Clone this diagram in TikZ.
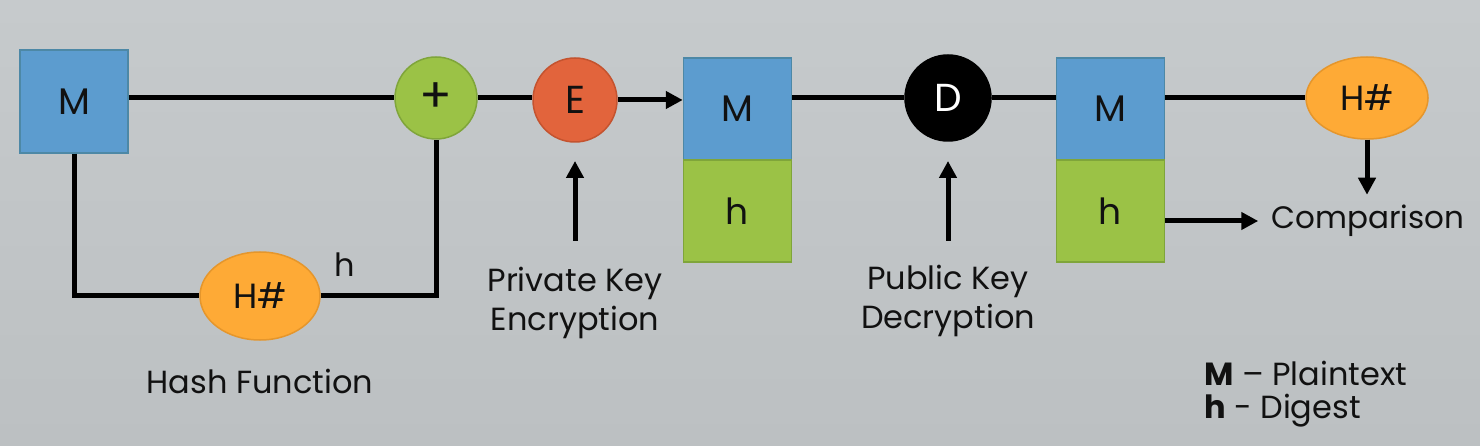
\documentclass[tikz,border=0pt]{standalone}
\usepackage{fontspec}
\setmainfont{Poppins}
\usetikzlibrary{arrows.meta,shapes.geometric,calc}
\definecolor{bgtop}{HTML}{C6CACC}
\definecolor{bgbot}{HTML}{BCC0C2}
\definecolor{mblue}{HTML}{5C9CCF}
\definecolor{mblueb}{HTML}{4D88A6}
\definecolor{hgreen}{HTML}{9BC246}
\definecolor{hgreenb}{HTML}{7FA53A}
\definecolor{horange}{HTML}{FEAA36}
\definecolor{horangeb}{HTML}{E5962C}
\definecolor{ered}{HTML}{E2643C}
\definecolor{eredb}{HTML}{C4532F}
\definecolor{ink}{HTML}{111111}
\begin{document}
\begin{tikzpicture}[x=1pt,y=-1pt,
  lbl/.style={font=\fontsize{32}{39}\selectfont, text=ink, inner sep=0pt},
  mbox/.style={rectangle, fill=mblue, draw=mblueb, line width=1.5pt, minimum width=108pt, minimum height=102pt, inner sep=0pt, font=\fontsize{37}{40}\selectfont, text=ink},
  hbox/.style={rectangle, fill=hgreen, draw=hgreenb, line width=1.5pt, minimum width=108pt, minimum height=102pt, inner sep=0pt, font=\fontsize{36}{40}\selectfont, text=ink},
  hashnode/.style={ellipse, fill=horange, draw=horangeb, line width=1.5pt, minimum width=122pt, minimum height=82pt, inner sep=0pt, font=\fontsize{35}{40}\selectfont, text=ink},
  opnode/.style={circle, line width=1.5pt, minimum size=82pt, inner sep=0pt, font=\fontsize{36}{40}\selectfont},
  wire/.style={line width=5pt, draw=black},
  arr/.style={line width=5pt, draw=black, -{Triangle[length=17pt,width=17pt]}}
]
\shade[top color=bgtop, bottom color=bgbot] (0,0) rectangle (1480,446);
\useasboundingbox (0,0) rectangle (1480,446);

% sender side
\node[mbox, minimum height=103pt] (m1) at (74,101.5) {M};
\node[opnode, fill=hgreen, draw=hgreenb, text=ink, font=\fontsize{48}{50}\selectfont] (plus) at (436,98) {+};
\node[hashnode, minimum width=120pt, minimum height=88pt] (hash1) at (260,296) {H\#};
\node[lbl] (hlbl) at (345,265) {h};
\node[lbl] (hashtxt) at (260,381) {Hash Function};

\draw[wire] (m1.east |- plus.west) -- (plus.west);
\draw[wire] (m1.south) |- (hash1.west);
\draw[wire] (hash1.east) -| (plus.south);

% encryption
\node[opnode, fill=ered, draw=eredb, text=ink, minimum size=84pt, font=\fontsize{39}{40}\selectfont] (enc) at (575,100) {E};
\node[lbl, align=center] (privtxt) at (575,303) {Private Key\\Encryption};
\draw[wire] (plus.east) -- (plus.east -| enc.west);
\draw[arr] (privtxt.north) ++(0,-26) -- ++(0,-80);

% signed message
\node[mbox] (m2) at (737.5,109) {M};
\node[hbox] (h2) at (737.5,211) {h};
\draw[arr] (enc.east) -- (enc.east -| m2.west);

% decryption
\node[opnode, fill=black, draw=black, text=white, minimum size=86pt, font=\fontsize{39}{40}\selectfont] (dec) at (948,98) {D};
\node[lbl, align=center] (pubtxt) at (948,301) {Public Key\\Decryption};
\draw[wire] (dec.west -| m2.east) -- (dec.west);
\draw[arr] (pubtxt.north) ++(0,-24) -- ++(0,-80);

% receiver
\node[mbox] (m3) at (1110.5,109) {M};
\node[hbox] (h3) at (1110.5,211) {h};
\draw[wire] (dec.east) -- (dec.east -| m3.west);
\node[hashnode] (hash2) at (1367,98) {H\#};
\draw[wire] (hash2.west -| m3.east) -- (hash2.west);
\node[lbl, font=\fontsize{31}{38}\selectfont] (cmp) at (1368,221) {Comparison};
\draw[arr] (hash2.south) -- ++(0,55);
\draw[arr] (h3.east |- cmp.west) -- ++(93,0);

% legend
\node[lbl, anchor=west] (leg1) at (1204,373) {\textbf{M} – Plaintext};
\node[lbl, anchor=west] (leg2) at (1204,411) {\textbf{h} - Digest};
\end{tikzpicture}
\end{document}
